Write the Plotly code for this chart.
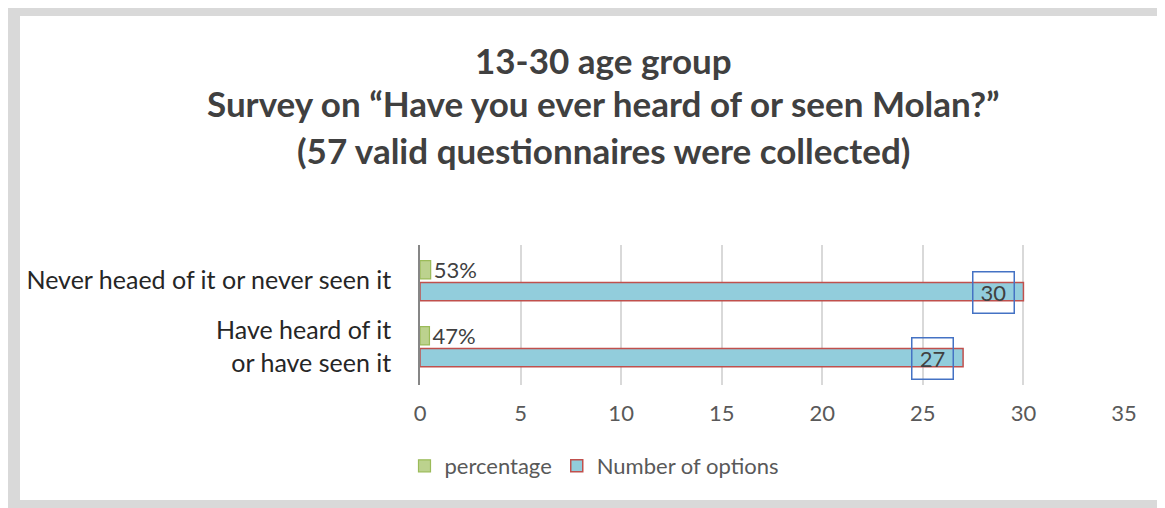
import plotly.graph_objects as go

categories = ["Have heard of it<br>or have seen it", "Never heaed of it or never seen it"]
counts = [27, 30]
percentages = [0.47, 0.53]
pct_labels = ["47%", "53%"]
title_lines = ["13-30 age group",
               "Survey on “Have you ever heard of or seen Molan?”",
               "(57 valid questionnaires were collected)"]
x_ticks = [0, 5, 10, 15, 20, 25, 30, 35]

W, H = 1165, 508
OFF = 8  # page body margin: screen coordinate = figure coordinate + 8
L, R, T, B = 420 - OFF, 1124 - OFF, 245 - OFF, 385 - OFF  # plot area in figure pixels


def px(sx):
    return (sx - OFF - L) / (R - L)


def py(sy):
    return (B - (sy - OFF)) / (B - T)


FONT = "Lato, 'Open Sans', sans-serif"

fig = go.Figure()
fig.add_trace(go.Bar(
    name="Number of options", y=categories, x=counts, orientation="h",
    marker=dict(color="#92CDDC", line=dict(color="#C0504D", width=1.5)),
    legendrank=2,
))
fig.add_trace(go.Bar(
    name="percentage", y=categories, x=percentages, orientation="h",
    marker=dict(color="#BCD28E", line=dict(color="#9BBB59", width=1.2)),
    text=pct_labels, textposition="outside", cliponaxis=False, constraintext="none",
    textfont=dict(size=22, color="#404040", family=FONT),
    legendrank=1,
))

annotations = []
for c, v in zip(categories, counts):
    annotations.append(dict(
        x=v - 1.5, y=c, xref="x", yref="y", yshift=-12,
        text=str(v), showarrow=False, width=30, height=30,
        font=dict(size=22, color="#404040", family=FONT),
        bordercolor="#4472C4", borderwidth=1.5, borderpad=5,
    ))

title_y = [60, 103, 150]
for t, yy in zip(title_lines, title_y):
    annotations.append(dict(
        x=px(603), y=py(yy), xref="paper", yref="paper", text="<b>" + t + "</b>",
        showarrow=False, xanchor="center", yanchor="middle",
        font=dict(size=35, color="#404040", family=FONT),
    ))
fig.update_layout(annotations=annotations)

shapes = [
    dict(type="rect", xref="paper", yref="paper", x0=px(6), x1=px(1163), y0=py(3), y1=py(508),
         fillcolor="#D9D9D9", line=dict(width=0), layer="below"),
    dict(type="rect", xref="paper", yref="paper", x0=px(20), x1=px(1159), y0=py(16), y1=py(500),
         fillcolor="#FFFFFF", line=dict(width=0), layer="below"),
]

fig.update_layout(
    width=W, height=H,
    margin=dict(l=L, r=W - R, t=T, b=H - B, pad=0),
    paper_bgcolor="#FFFFFF", plot_bgcolor="rgba(0,0,0,0)",
    barmode="group", bargap=0.34, bargroupgap=0.16,
    shapes=shapes,
    font=dict(family=FONT, color="#595959"),
    showlegend=True,
    legend=dict(orientation="h", x=px(594), y=py(466), xanchor="center", yanchor="middle",
                font=dict(size=22, color="#595959", family=FONT), bgcolor="rgba(0,0,0,0)",
                traceorder="normal"),
    xaxis=dict(range=[0, 35], tickvals=x_ticks, showgrid=True, gridcolor="#D9D9D9", gridwidth=1.5,
               zeroline=False, showline=False, ticks="", ticklen=0, ticklabelstandoff=13,
               tickfont=dict(size=22, color="#595959", family=FONT)),
    yaxis=dict(range=[-0.58, 1.54], showline=True, linecolor="#868686", linewidth=1.5,
               ticks="", showgrid=False, ticklabelstandoff=22,
               tickfont=dict(size=25, color="#262626", family=FONT)),
)

fig.write_html("out.html")
